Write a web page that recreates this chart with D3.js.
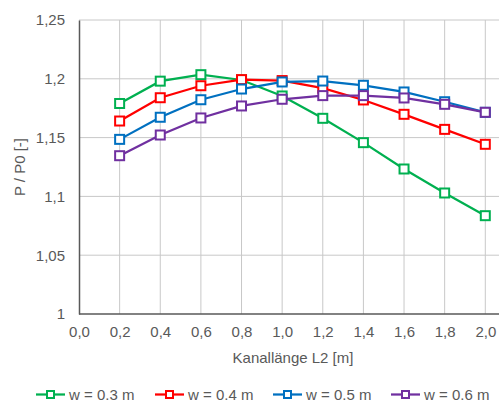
<!DOCTYPE html>
<html>
<head>
<meta charset="utf-8">
<script src="https://cdn.jsdelivr.net/npm/d3@7"></script>
<style>
  body { margin: 0; background: #fff; }
  svg { font-family: "Liberation Sans", Arial, sans-serif; }
</style>
</head>
<body>
<div id="chart"></div>
<script>
// chart data
const lengths = [0.2, 0.4, 0.6, 0.8, 1.0, 1.2, 1.4, 1.6, 1.8, 2.0];
const w03 = [1.179, 1.198, 1.2035, 1.199, 1.1854, 1.1664, 1.1457, 1.1233, 1.1029, 1.0836];
const w04 = [1.1641, 1.1839, 1.1941, 1.1993, 1.1985, 1.192, 1.182, 1.1698, 1.157, 1.1443];
const w05 = [1.1485, 1.1673, 1.1822, 1.1913, 1.1973, 1.1981, 1.1945, 1.1888, 1.1805, 1.1715];
const w06 = [1.1346, 1.1522, 1.1667, 1.1769, 1.1826, 1.1857, 1.1857, 1.1837, 1.1783, 1.1715];
const seriesNames = ["w = 0.3 m", "w = 0.4 m", "w = 0.5 m", "w = 0.6 m"];
const seriesColors = ["#00b050", "#ff0000", "#0070c0", "#7030a0"];
const xTicks = [0, 0.2, 0.4, 0.6, 0.8, 1.0, 1.2, 1.4, 1.6, 1.8, 2.0];
const yTicks = [1, 1.05, 1.1, 1.15, 1.2, 1.25];

const allSeries = [w03, w04, w05, w06];

const width = 499, height = 403;
const plotLeft = 79, plotRight = 485.3, plotTop = 20, plotBottom = 314;

const svg = d3.select("#chart").append("svg")
  .attr("width", width)
  .attr("height", height);

const x = d3.scaleLinear().domain([0, 2]).range([plotLeft, plotRight]);
const y = d3.scaleLinear().domain([1, 1.25]).range([plotBottom, plotTop]);

const fmt = v => d3.format(".1f")(v).replace(".", ",");
const fmtY = v => String(+v.toFixed(2)).replace(".", ",");

// gridlines
svg.append("g").selectAll("line")
  .data(yTicks.slice(1))
  .enter().append("line")
  .attr("x1", plotLeft).attr("x2", width)
  .attr("y1", d => y(d)).attr("y2", d => y(d))
  .attr("stroke", "#c8c8c8").attr("stroke-width", 1);

svg.append("g").selectAll("line")
  .data(xTicks.slice(1))
  .enter().append("line")
  .attr("x1", d => x(d)).attr("x2", d => x(d))
  .attr("y1", plotTop).attr("y2", plotBottom)
  .attr("stroke", "#c8c8c8").attr("stroke-width", 1);

// axes
const xAxis = svg.append("g")
  .attr("transform", "translate(0," + plotBottom + ")")
  .call(d3.axisBottom(x).tickValues(xTicks).tickFormat(fmt).tickSize(0).tickPadding(12));
xAxis.select(".domain").attr("stroke", "#595959").attr("stroke-width", 1.5)
  .attr("d", "M" + plotLeft + ",0H" + width);
xAxis.selectAll("text").attr("fill", "#595959").style("font-size", "15px");

const yAxis = svg.append("g")
  .attr("transform", "translate(" + plotLeft + ",0)")
  .call(d3.axisLeft(y).tickValues(yTicks).tickFormat(fmtY).tickSize(0).tickPadding(14));
yAxis.select(".domain").attr("stroke", "#595959").attr("stroke-width", 1.5);
yAxis.selectAll("text").attr("fill", "#595959").style("font-size", "15px");

// axis titles
svg.append("text")
  .attr("x", 293).attr("y", 363)
  .attr("text-anchor", "middle")
  .attr("fill", "#595959").style("font-size", "15px")
  .text("Kanallänge L2 [m]");

svg.append("text")
  .attr("transform", "translate(25,167) rotate(-90)")
  .attr("text-anchor", "middle")
  .attr("fill", "#595959").style("font-size", "15px")
  .text("P / P0 [-]");

// series
const line = d3.line()
  .x((d, i) => x(lengths[i]))
  .y(d => y(d));

allSeries.forEach((vals, s) => {
  const g = svg.append("g");
  g.append("path")
    .datum(vals)
    .attr("d", line)
    .attr("fill", "none")
    .attr("stroke", seriesColors[s])
    .attr("stroke-width", 2.25);
  g.selectAll("rect")
    .data(vals)
    .enter().append("rect")
    .attr("x", (d, i) => x(lengths[i]) - 4.5)
    .attr("y", d => y(d) - 4.5)
    .attr("width", 9).attr("height", 9)
    .attr("fill", "#fff")
    .attr("stroke", seriesColors[s])
    .attr("stroke-width", 2);
});

// legend (kept just inside the bottom edge)
const legendX = [36, 155, 273, 391];
const leg = svg.append("g").attr("transform", "translate(0,394.5)");
seriesNames.forEach((name, s) => {
  const lg = leg.append("g").attr("transform", "translate(" + legendX[s] + ",0)");
  lg.append("line")
    .attr("x1", 0).attr("x2", 29).attr("y1", 0).attr("y2", 0)
    .attr("stroke", seriesColors[s]).attr("stroke-width", 2.25);
  lg.append("rect")
    .attr("x", 11).attr("y", -3.5).attr("width", 7).attr("height", 7)
    .attr("fill", "#fff").attr("stroke", seriesColors[s]).attr("stroke-width", 2);
  lg.append("text")
    .attr("x", 33).attr("y", 5)
    .attr("fill", "#595959").style("font-size", "15px")
    .text(name);
});
</script>
</body>
</html>
